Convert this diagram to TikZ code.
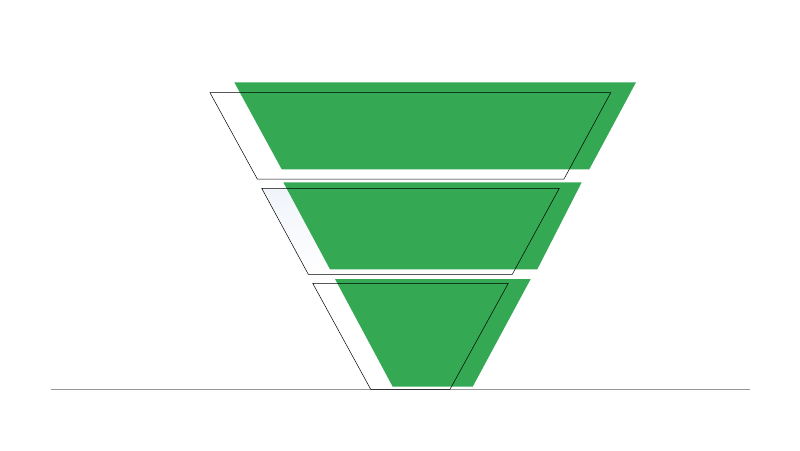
\documentclass[tikz,border=0pt]{standalone}
\definecolor{fgreen}{RGB}{52,168,83}
\definecolor{baseg}{RGB}{150,150,150}
\definecolor{paleb}{RGB}{240,244,250}
\begin{document}
\begin{tikzpicture}[x=1pt,y=-1pt,
  band/.style={fill=fgreen},
  frame/.style={draw=black,line width=0.5pt,line join=miter}]
\useasboundingbox[fill=white] (0,0) rectangle (800,450);
% green bands
\fill[band] (234.3,82.3) -- (636,82.3) -- (589.3,169.3) -- (281.7,169.3) -- cycle;
% pale tint in second frame
\shade[top color=paleb,bottom color=white] (261.7,188.3) -- (290,188.3) -- (330,269.3) -- (308.3,274.3) -- cycle;
\fill[band] (283.3,182.3) -- (581.7,182.3) -- (537.3,269.3) -- (330,269.3) -- cycle;
\fill[band] (335,279) -- (530.7,279) -- (472.7,386.7) -- (392.7,386.7) -- cycle;
% baseline
\draw[baseg,line width=1.3pt] (51,389.6) -- (750,389.6);
% outline frames
\draw[frame] (210,92.7) -- (610.7,92.7) -- (564,179) -- (257.3,179) -- cycle;
\draw[frame] (261.7,188.3) -- (559.3,188.3) -- (512.3,274.3) -- (308.3,274.3) -- cycle;
\draw[frame] (312.7,283.3) -- (508.3,283.3) -- (450,389.3) -- (370.7,389.3) -- cycle;
\end{tikzpicture}
\end{document}
